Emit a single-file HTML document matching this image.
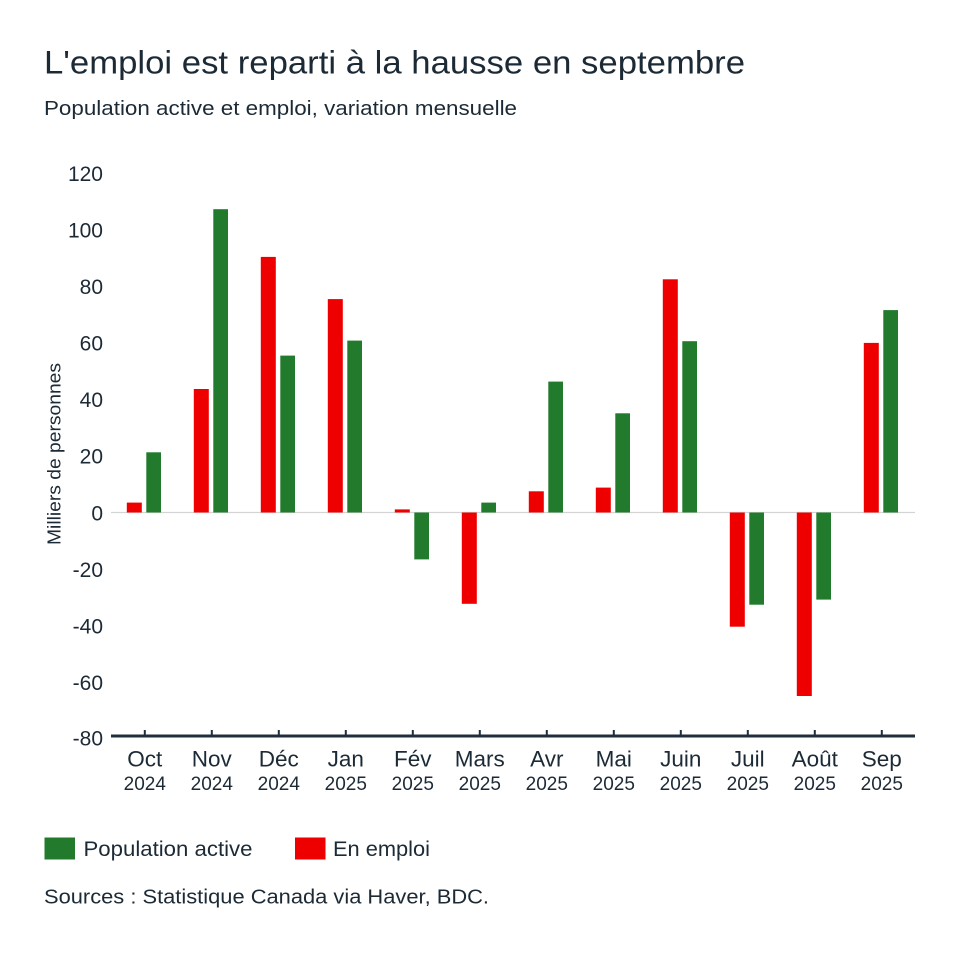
<!DOCTYPE html>
<html>
<head>
<meta charset="utf-8">
<style>
  html, body { margin: 0; padding: 0; background: #ffffff; }
  body { width: 960px; height: 960px; overflow: hidden; }
  svg { display: block; }
  text { font-family: "Liberation Sans", "DejaVu Sans", sans-serif; fill: #1c2a36; }
</style>
</head>
<body>
<svg width="960" height="960" viewBox="0 0 960 960" xmlns="http://www.w3.org/2000/svg">
  <rect x="0" y="0" width="960" height="960" fill="#ffffff"/>

  <!-- Title & subtitle -->
  <text x="44" y="73.5" font-size="32" textLength="701" lengthAdjust="spacingAndGlyphs">L'emploi est reparti à la hausse en septembre</text>
  <text x="44" y="115" font-size="20" textLength="473" lengthAdjust="spacingAndGlyphs">Population active et emploi, variation mensuelle</text>

  <!-- Y axis title -->
  <text transform="translate(60.5,545) rotate(-90)" x="0" y="0" font-size="18" textLength="182" lengthAdjust="spacingAndGlyphs">Milliers de personnes</text>

  <!-- Y tick labels -->
  <g font-size="21" text-anchor="end">
    <text x="103" y="180.8">120</text>
    <text x="103" y="237.3">100</text>
    <text x="103" y="293.8">80</text>
    <text x="103" y="350.3">60</text>
    <text x="103" y="406.8">40</text>
    <text x="103" y="463.3">20</text>
    <text x="103" y="520.3">0</text>
    <text x="103" y="576.8">-20</text>
    <text x="103" y="633.3">-40</text>
    <text x="103" y="689.8">-60</text>
    <text x="103" y="745.3">-80</text>
  </g>

  <!-- Zero line -->
  <line x1="111" y1="512.5" x2="915" y2="512.5" stroke="#d4d4d4" stroke-width="1.2"/>

  <!-- Bars: red = En emploi, green = Population active -->
  <g fill="#ee0000">
    <rect x="126.8" y="502.6" width="15" height="9.9"/>
    <rect x="193.8" y="389.0" width="15" height="123.5"/>
    <rect x="260.8" y="256.9" width="15" height="255.6"/>
    <rect x="327.8" y="299.1" width="15" height="213.4"/>
    <rect x="394.8" y="509.4" width="15" height="3.1"/>
    <rect x="461.8" y="512.5" width="15" height="91.3"/>
    <rect x="528.8" y="491.3" width="15" height="21.2"/>
    <rect x="595.8" y="487.6" width="15" height="24.9"/>
    <rect x="662.8" y="279.3" width="15" height="233.2"/>
    <rect x="729.8" y="512.5" width="15" height="114.2"/>
    <rect x="796.8" y="512.5" width="15" height="183.5"/>
    <rect x="863.8" y="342.9" width="15" height="169.6"/>
  </g>
  <g fill="#227a2d">
    <rect x="146.3" y="452.3" width="14.7" height="60.2"/>
    <rect x="213.3" y="209.2" width="14.7" height="303.3"/>
    <rect x="280.3" y="355.6" width="14.7" height="156.9"/>
    <rect x="347.3" y="340.6" width="14.7" height="171.9"/>
    <rect x="414.3" y="512.5" width="14.7" height="46.9"/>
    <rect x="481.3" y="502.6" width="14.7" height="9.9"/>
    <rect x="548.3" y="381.6" width="14.7" height="130.9"/>
    <rect x="615.3" y="413.3" width="14.7" height="99.2"/>
    <rect x="682.3" y="341.2" width="14.7" height="171.3"/>
    <rect x="749.3" y="512.5" width="14.7" height="92.2"/>
    <rect x="816.3" y="512.5" width="14.7" height="87.1"/>
    <rect x="883.3" y="310.1" width="14.7" height="202.4"/>
  </g>

  <!-- X axis line -->
  <line x1="111" y1="736" x2="915" y2="736" stroke="#1f2d3c" stroke-width="3"/>
  <!-- X ticks -->
  <g stroke="#1f2d3c" stroke-width="2">
    <line x1="144.8" y1="730" x2="144.8" y2="736"/>
    <line x1="211.8" y1="730" x2="211.8" y2="736"/>
    <line x1="278.8" y1="730" x2="278.8" y2="736"/>
    <line x1="345.8" y1="730" x2="345.8" y2="736"/>
    <line x1="412.8" y1="730" x2="412.8" y2="736"/>
    <line x1="479.8" y1="730" x2="479.8" y2="736"/>
    <line x1="546.8" y1="730" x2="546.8" y2="736"/>
    <line x1="613.8" y1="730" x2="613.8" y2="736"/>
    <line x1="680.8" y1="730" x2="680.8" y2="736"/>
    <line x1="747.8" y1="730" x2="747.8" y2="736"/>
    <line x1="814.8" y1="730" x2="814.8" y2="736"/>
    <line x1="881.8" y1="730" x2="881.8" y2="736"/>
  </g>

  <!-- X labels: months -->
  <g font-size="22.5" text-anchor="middle">
    <text x="144.8" y="766.7">Oct</text>
    <text x="211.8" y="766.7">Nov</text>
    <text x="278.8" y="766.7">Déc</text>
    <text x="345.8" y="766.7">Jan</text>
    <text x="412.8" y="766.7">Fév</text>
    <text x="479.8" y="766.7">Mars</text>
    <text x="546.8" y="766.7">Avr</text>
    <text x="613.8" y="766.7">Mai</text>
    <text x="680.8" y="766.7">Juin</text>
    <text x="747.8" y="766.7">Juil</text>
    <text x="814.8" y="766.7">Août</text>
    <text x="881.8" y="766.7">Sep</text>
  </g>
  <!-- X labels: years -->
  <g font-size="19" text-anchor="middle">
    <text x="144.8" y="790">2024</text>
    <text x="211.8" y="790">2024</text>
    <text x="278.8" y="790">2024</text>
    <text x="345.8" y="790">2025</text>
    <text x="412.8" y="790">2025</text>
    <text x="479.8" y="790">2025</text>
    <text x="546.8" y="790">2025</text>
    <text x="613.8" y="790">2025</text>
    <text x="680.8" y="790">2025</text>
    <text x="747.8" y="790">2025</text>
    <text x="814.8" y="790">2025</text>
    <text x="881.8" y="790">2025</text>
  </g>

  <!-- Legend -->
  <rect x="44.5" y="837.5" width="30.5" height="22" fill="#227a2d"/>
  <text x="83.5" y="856" font-size="21" textLength="169" lengthAdjust="spacingAndGlyphs">Population active</text>
  <rect x="295" y="837.5" width="30.5" height="22" fill="#ee0000"/>
  <text x="333" y="856" font-size="21" textLength="97" lengthAdjust="spacingAndGlyphs">En emploi</text>

  <!-- Source -->
  <text x="44" y="903.5" font-size="20" textLength="445" lengthAdjust="spacingAndGlyphs">Sources : Statistique Canada via Haver, BDC.</text>
</svg>
</body>
</html>
